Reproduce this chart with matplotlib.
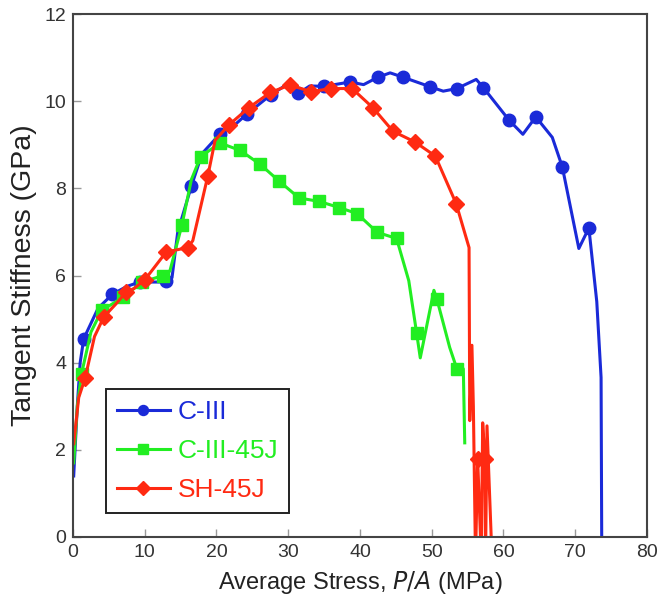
import matplotlib
matplotlib.use("Agg")
import matplotlib.pyplot as plt

plt.rcParams['font.family'] = ['Liberation Sans', 'DejaVu Sans']

# C-III
c3_x = [0.1, 0.6, 1.0, 1.5, 3.5, 5.5, 7.5, 9.3, 12.0, 13.0, 13.8, 14.6, 16.5, 18.0,
        20.5, 22.5, 24.2, 27.6, 29.5, 31.4, 33.0, 35.0, 38.6, 40.5, 42.5, 44.2, 46.0,
        49.8, 51.6, 53.5, 56.2, 57.2, 60.8, 62.7, 64.5, 66.8, 68.2, 70.5, 71.9, 73.0,
        73.6, 73.7]
c3_y = [1.4, 3.0, 4.0, 4.55, 5.25, 5.57, 5.75, 5.85, 5.85, 5.88, 5.95, 7.0, 8.05, 8.8,
        9.25, 9.45, 9.7, 10.15, 10.35, 10.18, 10.35, 10.34, 10.44, 10.38, 10.55, 10.65,
        10.55, 10.33, 10.23, 10.29, 10.5, 10.31, 9.56, 9.24, 9.64, 9.17, 8.49, 6.62,
        7.09, 5.4, 3.66, -0.5]
c3_marks = [3, 5, 7, 9, 12, 14, 16, 17, 19, 21, 22, 24, 26, 27, 29, 31, 32, 34, 36, 38]

# C-III-45J
c345_x = [0.1, 0.6, 1.2, 2.5, 4.0, 7.0, 9.6, 12.6, 13.5, 15.2, 16.5, 17.8, 20.5, 23.3,
          26.1, 28.7, 31.5, 34.3, 37.1, 39.6, 42.4, 45.1, 46.8, 47.9, 48.4, 50.3, 50.7,
          52.5, 53.5, 54.4, 54.6]
c345_y = [1.7, 3.0, 3.75, 4.7, 5.2, 5.5, 5.85, 6.0, 6.1, 7.17, 8.2, 8.73, 9.04, 8.87,
          8.55, 8.17, 7.78, 7.7, 7.56, 7.42, 6.99, 6.85, 5.88, 4.67, 4.11, 5.66, 5.47,
          4.35, 3.86, 3.86, 2.16]
c345_marks = [2, 4, 5, 6, 7, 9, 11, 12, 13, 14, 15, 16, 17, 18, 19, 20, 21, 23, 26, 28]

# SH-45J
sh_x = [0.1, 0.8, 1.7, 3.0, 4.3, 6.0, 7.4, 8.5, 10.0, 13.0, 16.0, 16.7, 18.8, 19.8,
        21.7, 24.5, 27.5, 30.2, 33.2, 36.0, 38.9, 41.8, 44.6, 47.7, 50.5, 53.4, 55.2,
        55.3, 55.6, 55.8, 56.1, 56.4, 56.9, 57.1, 57.4, 57.5, 57.7, 58.4]
sh_y = [2.14, 3.2, 3.65, 4.6, 5.05, 5.35, 5.62, 5.7, 5.9, 6.54, 6.64, 6.8, 8.29, 9.1,
        9.45, 9.85, 10.2, 10.37, 10.22, 10.29, 10.29, 9.85, 9.31, 9.06, 8.74, 7.65, 6.64,
        2.67, 4.4, 3.0, -0.5, 1.8, -0.5, 2.62, 1.8, -0.5, 2.55, -0.5]
sh_marks = [2, 4, 6, 8, 9, 10, 12, 14, 15, 16, 17, 18, 19, 20, 21, 22, 23, 24, 25, 31, 34]

x_ticks = [0, 10, 20, 30, 40, 50, 60, 70, 80]
y_ticks = [0, 2, 4, 6, 8, 10, 12]

fig = plt.figure(figsize=(6.72, 6.02), dpi=100)
ax = fig.add_axes([0.1086, 0.108, 0.8542, 0.8687])

ax.plot(c3_x, c3_y, color='#1a2ad8', lw=2.2, marker='o', ms=9,
        markevery=c3_marks, label='C-III')
ax.plot(c345_x, c345_y, color='#22ee22', lw=2.2, marker='s', ms=8.5,
        markevery=c345_marks, label='C-III-45J')
ax.plot(sh_x, sh_y, color='#ff2a12', lw=2.2, marker='D', ms=8.5,
        markevery=sh_marks, label='SH-45J')

ax.set_xlim(0, 80)
ax.set_ylim(0, 12)
ax.set_xticks(x_ticks)
ax.set_yticks(y_ticks)
ax.tick_params(direction='in', length=6, width=1, color='#999999',
               labelsize=14, labelcolor='#333333', pad=5)
for s in ax.spines.values():
    s.set_color('#444444')
    s.set_linewidth(1.5)

ax.set_xlabel('Average Stress, $\\it{P/A}$ (MPa)', fontsize=17, color='#222222',
              labelpad=6)
ax.set_ylabel('Tangent Stiffness (GPa)', fontsize=20.5, color='#222222', labelpad=5)

leg = ax.legend(loc='lower left', bbox_to_anchor=(0.057, 0.046), fontsize=19,
                fancybox=False, framealpha=1, edgecolor='#222222',
                handlelength=2.0, handletextpad=0.3, borderpad=0.42,
                labelspacing=0.56, borderaxespad=0, markerscale=0.8)
leg.get_frame().set_linewidth(1.4)
for t, line in zip(leg.get_texts(), leg.get_lines()):
    t.set_color(line.get_color())

fig.savefig('out.png', dpi=100)
